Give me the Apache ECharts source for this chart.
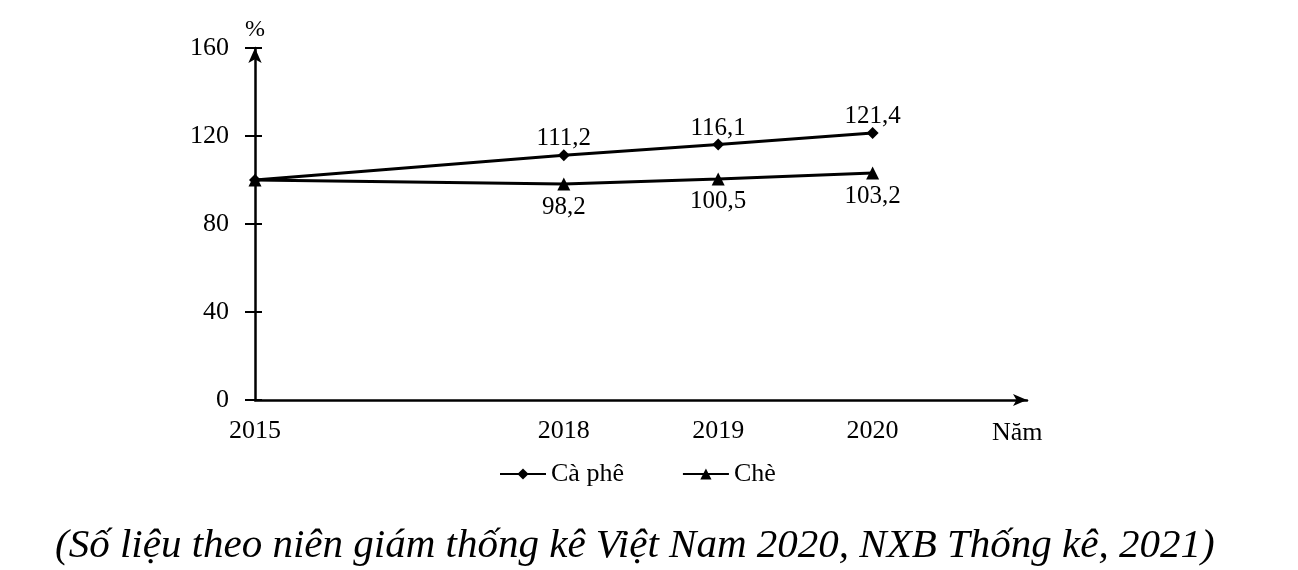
<!DOCTYPE html>
<html><head><meta charset="utf-8">
<script src="https://cdn.jsdelivr.net/npm/echarts@6/dist/echarts.min.js"></script>
<style>html,body{margin:0;padding:0;background:#fff}#c{width:1298px;height:570px}</style>
</head><body><div id="c"></div>
<script>
const years = [2015, 2018, 2019, 2020];
const xPos = [0, 2, 3, 4];
const caPhe = [100, 111.2, 116.1, 121.4];
const che = [100, 98.2, 100.5, 103.2];
const yTicks = [0, 40, 80, 120, 160];
const seriesNames = ['Cà phê', 'Chè'];
const caption = '(Số liệu theo niên giám thống kê Việt Nam 2020, NXB Thống kê, 2021)';

const FONT = '"Liberation Serif", "Times New Roman", serif';
const fmt = v => String(v).replace('.', ',');
const labelFmt = (p) => p.dataIndex === 0 ? '' : fmt(p.value[1]);

const chart = echarts.init(document.getElementById('c'));
chart.setOption({
  animation: false,
  backgroundColor: '#fff',
  textStyle: { fontFamily: FONT, color: '#000' },
  grid: { left: 255, top: 48, width: 772, height: 352 },
  title: {
    text: caption, left: 50, top: 521,
    textStyle: { fontFamily: FONT, fontStyle: 'italic', fontWeight: 'normal', fontSize: 41, color: '#000' }
  },
  legend: {
    data: seriesNames,
    top: 456, left: 494, itemGap: 58, itemWidth: 46, itemHeight: 14,
    textStyle: { fontFamily: FONT, fontSize: 26, color: '#000' }
  },
  xAxis: {
    type: 'value', min: 0, max: 5, interval: 1,
    axisLine: { show: true, lineStyle: { color: '#000', width: 2.5 }, symbol: ['none', 'arrow'], symbolSize: [9, 14] },
    axisTick: { show: false }, splitLine: { show: false },
    axisLabel: {
      margin: 18, fontFamily: FONT, fontSize: 26, color: '#000',
      formatter: v => { const i = xPos.indexOf(v); return i >= 0 ? String(years[i]) : ''; }
    }
  },
  yAxis: [{
    type: 'value', min: yTicks[0], max: yTicks[yTicks.length - 1], interval: 40,
    name: '%', nameLocation: 'end', nameGap: 6,
    nameTextStyle: { fontFamily: FONT, fontSize: 24, color: '#000' },
    axisLine: { show: true, lineStyle: { color: '#000', width: 2.5 }, symbol: ['none', 'arrow'], symbolSize: [10, 15] },
    axisTick: { show: true, inside: false, length: 10, lineStyle: { color: '#000', width: 2 } },
    splitLine: { show: false },
    axisLabel: { margin: 26, fontFamily: FONT, fontSize: 26, color: '#000' }
  }, {
    type: 'value', min: yTicks[0], max: yTicks[yTicks.length - 1], interval: 40, position: 'left',
    axisLine: { show: false },
    axisTick: { show: true, inside: true, length: 7, lineStyle: { color: '#000', width: 2 } },
    splitLine: { show: false }, axisLabel: { show: false }
  }],
  graphic: [{
    type: 'text', left: 992, top: 420,
    style: { text: 'Năm', font: '26px ' + FONT, fill: '#000' }
  }],
  series: [{
    name: seriesNames[0], type: 'line',
    data: xPos.map((x, i) => [x, caPhe[i]]),
    symbol: 'diamond', symbolSize: 12,
    lineStyle: { color: '#000', width: 3 }, itemStyle: { color: '#000' },
    label: { show: true, position: 'top', distance: 3, offset: [0, 5], fontFamily: FONT, fontSize: 25, color: '#000', formatter: labelFmt }
  }, {
    name: seriesNames[1], type: 'line',
    data: xPos.map((x, i) => [x, che[i]]),
    symbol: 'triangle', symbolSize: 13,
    lineStyle: { color: '#000', width: 3 }, itemStyle: { color: '#000' },
    label: { show: true, position: 'bottom', distance: 4, fontFamily: FONT, fontSize: 25, color: '#000', formatter: labelFmt }
  }]
});
</script></body></html>
